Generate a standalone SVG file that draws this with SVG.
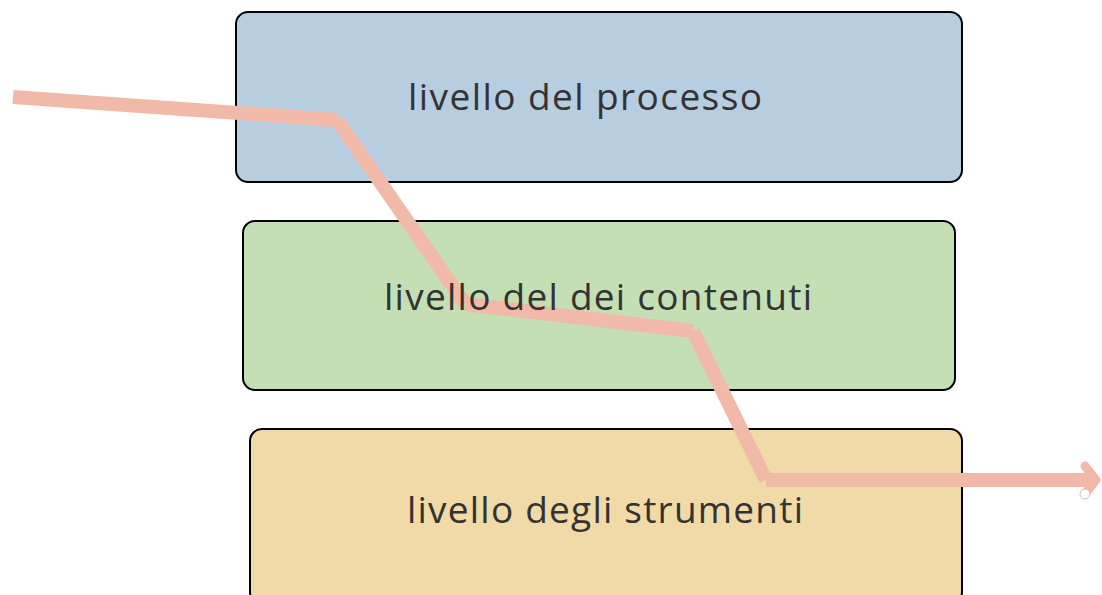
<svg xmlns="http://www.w3.org/2000/svg" width="1102" height="595" viewBox="0 0 1102 595">
<style>
.box{stroke:#000;stroke-width:2}
.lbl{font-family:"Open Sans","Liberation Sans",sans-serif;font-size:37px;fill:#333;text-anchor:middle;dominant-baseline:central}
.seg{stroke:#f0b9a8;stroke-width:14;fill:none;stroke-linecap:butt}
</style>
<rect width="1102" height="595" fill="#fff"/>
<g id="node-processo">
<rect class="box" x="236" y="12" width="726" height="170" rx="12" fill="#b7cde0"/>
</g>
<g id="node-contenuti">
<rect class="box" x="243" y="221" width="712" height="169" rx="12" fill="#c4dfb4"/>
</g>
<g id="node-strumenti">
<rect class="box" x="250" y="429" width="712" height="175" rx="12" fill="#f0dba8"/>
</g>
<g id="connectors">
<line class="seg" x1="13" y1="97" x2="337" y2="120"/>
<line class="seg" x1="337" y1="120" x2="465" y2="304"/>
<line class="seg" x1="465" y1="304" x2="693" y2="331"/>
<line class="seg" x1="693" y1="331" x2="766" y2="480"/>
<line class="seg" x1="766" y1="480" x2="1094" y2="480"/>
<polyline points="1085,466 1096,480 1085,494" fill="none" stroke="#f0b9a8" stroke-width="9" stroke-linecap="round" stroke-linejoin="round"/>
<circle cx="1085" cy="494" r="5" fill="#fff" stroke="#f0b9a8" stroke-width="1"/>
</g>
<g id="labels">
<text class="lbl" x="585" y="95" textLength="354">livello del processo</text>
<text class="lbl" x="598" y="295" textLength="428">livello del dei contenuti</text>
<text class="lbl" x="605" y="508" textLength="396">livello degli strumenti</text>
</g>
</svg>
